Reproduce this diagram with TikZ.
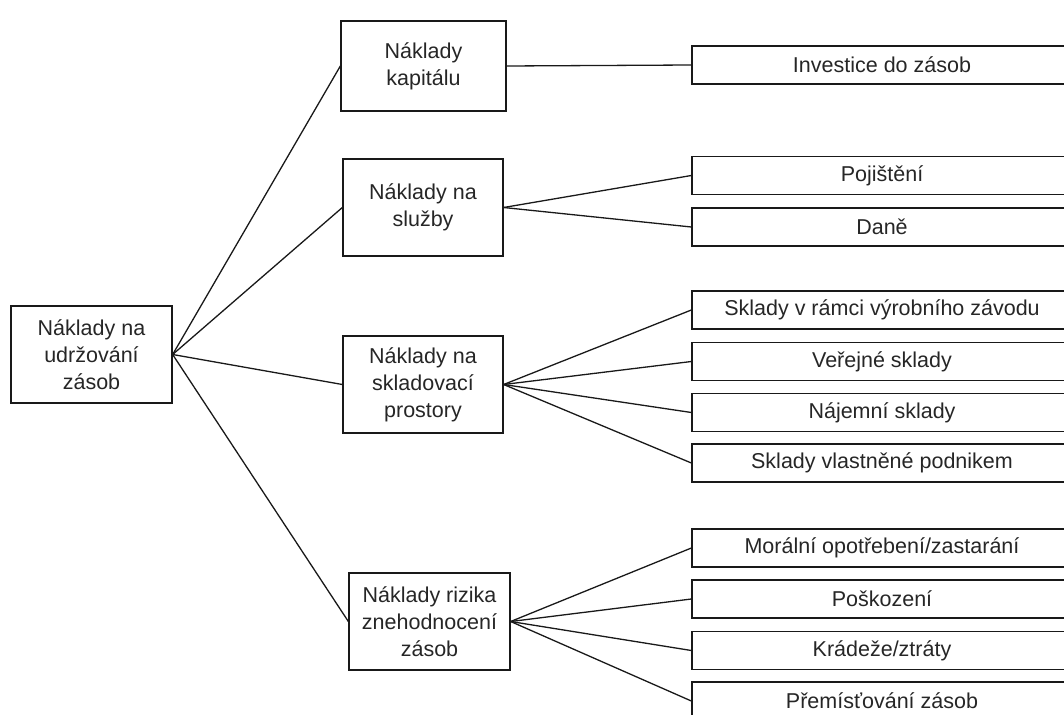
\documentclass[tikz,border=0pt]{standalone}
\usepackage{fontspec}
\setmainfont{Liberation Sans}
\begin{document}
\begin{tikzpicture}[x=1pt,y=-1pt]
		\tikzstyle{every node}+=[inner sep=0pt,draw=black!90,line width=1.3pt,align=center,font=\fontsize{21.5}{27}\selectfont,text=black!85]
		\tikzstyle{box}=[minimum width=160pt,minimum height=97pt]
		\tikzstyle{leaf}=[minimum width=380pt,minimum height=38pt]
		\useasboundingbox (0,0) rectangle (1064,714);
		\clip (0,0) rectangle (1064,714);
		\node [minimum width=161pt,minimum height=97pt] (root) at (91.5,354.5) {Náklady na\\udržování\\zásob};
		\node [box,minimum width=165pt,minimum height=90pt] (kap) at (423.5,66) {Náklady\\kapitálu};
		\node [box] (slu) at (423,207.5) {Náklady na\\služby};
		\node [box] (skl) at (423,384.5) {Náklady na\\skladovací\\prostory};
		\node [box,minimum width=161pt] (riz) at (429.5,621.5) {Náklady rizika\\znehodnocení\\zásob};
		\node [leaf] (inv) at (882,65) {Investice do zásob};
		\node [leaf] (poj) at (882,175.5) {Pojištění};
		\node [leaf] (dan) at (882,227) {Daně};
		\node [leaf] (svz) at (882,310) {Sklady v rámci výrobního závodu};
		\node [leaf] (ver) at (882,361.5) {Veřejné sklady};
		\node [leaf] (naj) at (882,412.5) {Nájemní sklady};
		\node [leaf] (vla) at (882,463) {Sklady vlastněné podnikem};
		\node [leaf] (mor) at (882,548) {Morální opotřebení/zastarání};
		\node [leaf] (pos) at (882,599) {Poškození};
		\node [leaf] (kra) at (882,650.5) {Krádeže/ztráty};
		\node [leaf] (pre) at (882,701) {Přemísťování zásob};
		\draw [black!90,line width=1.3pt] (root.east) -- (kap.west);
		\draw [black!90,line width=1.3pt] (root.east) -- (slu.west);
		\draw [black!90,line width=1.3pt] (root.east) -- (skl.west);
		\draw [black!90,line width=1.3pt] (root.east) -- (riz.west);
		\draw [black!90,line width=1.3pt] (kap.east) -- (inv.west);
		\foreach \t in {poj,dan}
			\draw [black!90,line width=1.3pt] (slu.east) -- (\t.west);
		\foreach \t in {svz,ver,naj,vla}
			\draw [black!90,line width=1.3pt] (skl.east) -- (\t.west);
		\foreach \t in {mor,pos,kra,pre}
			\draw [black!90,line width=1.3pt] (riz.east) -- (\t.west);
		\end{tikzpicture}
\end{document}
